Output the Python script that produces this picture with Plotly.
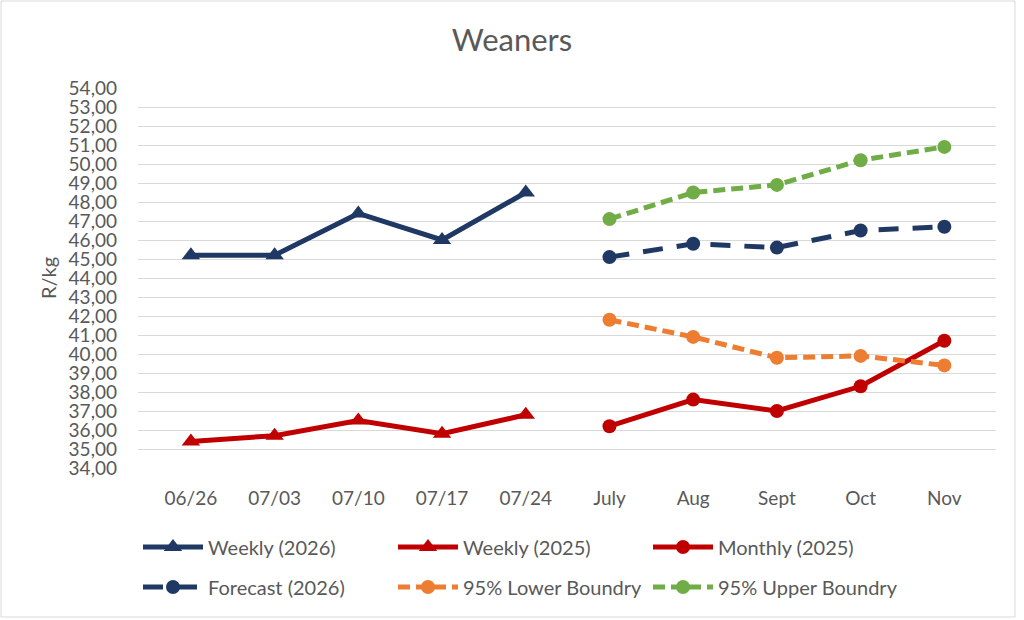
import plotly.graph_objects as go

# categories on the x axis (weekly dates then months)
weeks = ["06/26", "07/03", "07/10", "07/17", "07/24"]
months = ["July", "Aug", "Sept", "Oct", "Nov"]

# R/kg values
weekly_2026 = [45.2, 45.2, 47.4, 46.0, 48.5]
weekly_2025 = [35.4, 35.7, 36.5, 35.8, 36.8]
monthly_2025 = [36.2, 37.6, 37.0, 38.3, 40.7]
forecast_2026 = [45.1, 45.8, 45.6, 46.5, 46.7]
lower_95 = [41.8, 40.9, 39.8, 39.9, 39.4]
upper_95 = [47.1, 48.5, 48.9, 50.2, 50.9]

NAVY = "#1F3864"
RED = "#C00000"
ORANGE = "#ED7D31"
GREEN = "#70AD47"
GREY = "#595959"
FONT = "Lato"
LW = 5

fig = go.Figure()

fig.add_trace(go.Scatter(x=weeks, y=weekly_2026, name="Weekly (2026)", mode="lines+markers",
                         line=dict(color=NAVY, width=LW),
                         marker=dict(symbol="triangle-up", size=16, color=NAVY),
                         legend="legend"))
fig.add_trace(go.Scatter(x=weeks, y=weekly_2025, name="Weekly (2025)", mode="lines+markers",
                         line=dict(color=RED, width=LW),
                         marker=dict(symbol="triangle-up", size=16, color=RED),
                         legend="legend"))
fig.add_trace(go.Scatter(x=months, y=monthly_2025, name="Monthly (2025)", mode="lines+markers",
                         line=dict(color=RED, width=LW),
                         marker=dict(symbol="circle", size=14, color=RED),
                         legend="legend"))
fig.add_trace(go.Scatter(x=months, y=forecast_2026, name="Forecast (2026)", mode="lines+markers",
                         line=dict(color=NAVY, width=LW, dash="20px,14px"),
                         marker=dict(symbol="circle", size=14, color=NAVY),
                         legend="legend2"))
fig.add_trace(go.Scatter(x=months, y=lower_95, name="95% Lower Boundry", mode="lines+markers",
                         line=dict(color=ORANGE, width=LW, dash="12px,6px"),
                         marker=dict(symbol="circle", size=14, color=ORANGE),
                         legend="legend2"))
fig.add_trace(go.Scatter(x=months, y=upper_95, name="95% Upper Boundry", mode="lines+markers",
                         line=dict(color=GREEN, width=LW, dash="12px,6px"),
                         marker=dict(symbol="circle", size=14, color=GREEN),
                         legend="legend2"))

legend_style = dict(orientation="h", x=0, xanchor="left", yanchor="middle",
                    font=dict(family=FONT, size=20, color=GREY),
                    itemwidth=60, entrywidth=180, bgcolor="rgba(0,0,0,0)")

fig.update_layout(
    width=1024, height=620,
    margin=dict(l=138, r=28, t=88, b=152),
    paper_bgcolor="white", plot_bgcolor="white",
    separators=",.",
    font=dict(family=FONT, color=GREY),
    title=dict(text="Weaners", x=0.5, xanchor="center", y=1 - 40 / 620, yanchor="middle",
               font=dict(family=FONT, size=31, color=GREY)),
    xaxis=dict(type="category", categoryorder="array", categoryarray=weeks + months,
               showgrid=False, showline=False, ticks="", zeroline=False,
               tickfont=dict(family=FONT, size=19, color=GREY), ticklabelstandoff=17),
    yaxis=dict(range=[34, 54], dtick=1, tickformat=".2f",
               showgrid=True, gridcolor="#D9D9D9", gridwidth=1, zeroline=False,
               showline=False, ticks="",
               tickfont=dict(family=FONT, size=19, color=GREY), ticklabelstandoff=20,
               title=dict(text="R/kg", font=dict(family=FONT, size=20, color=GREY), standoff=6)),
    legend=dict(y=(468 - 547) / 380, **legend_style),
    legend2=dict(y=(468 - 587) / 380, **legend_style),
    showlegend=True,
    shapes=[dict(type="rect", xref="paper", yref="paper",
                 x0=-137 / 858, x1=(1015 - 138) / 858,
                 y0=(468 - 617) / 380, y1=(468 - 1) / 380,
                 line=dict(color="#D9D9D9", width=1), layer="below")],
)

# drop the browser's default 8px body margin so the figure sits at the page origin
fig.write_html("out.html", config={"displayModeBar": False},
               post_script="document.body.style.margin='0px';")
